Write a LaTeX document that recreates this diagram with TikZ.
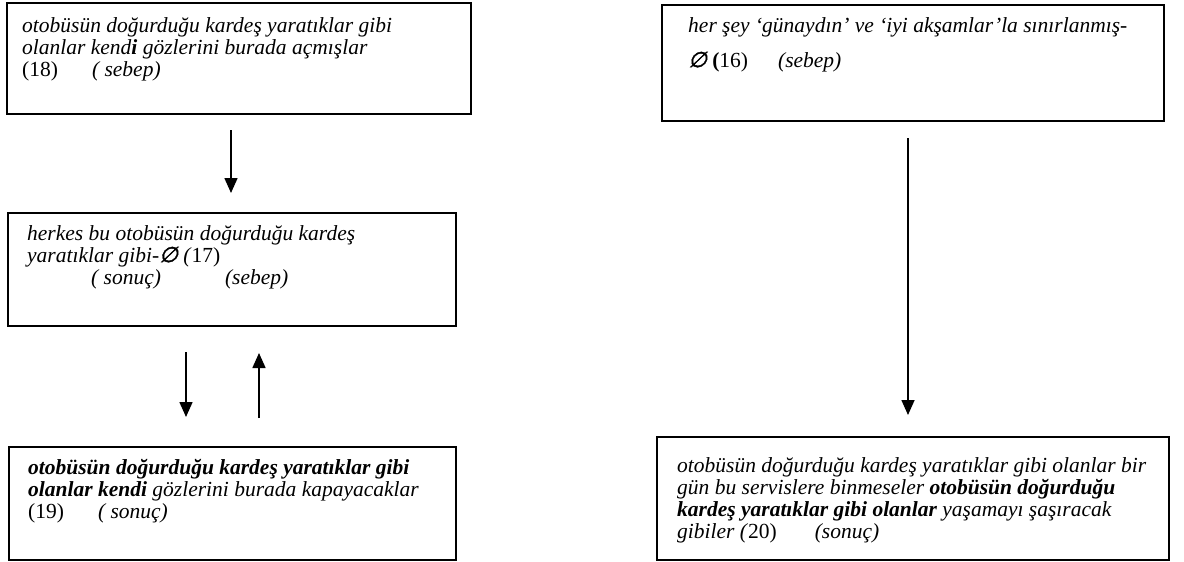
\documentclass[tikz,border=0pt]{standalone}
\usepackage{fontspec}
\setmainfont{Liberation Serif}
\newfontfamily\bosfont[FakeSlant=0.25, FakeBold=2]{DejaVu Sans}
\usetikzlibrary{arrows.meta}

\newcommand{\bos}{{\bosfont ∅}}

\tikzset{
  kutu/.style={draw, line width=1.8pt, anchor=north west, inner sep=0pt},
  yazi/.style={anchor=north west, inner sep=0pt, align=left,
    font=\fontsize{21.5}{22}\selectfont\itshape},
  ok/.style={line width=1.6pt, -{Triangle[width=13pt,length=15pt]}},
}

\begin{document}
\begin{tikzpicture}[x=1pt, y=-1pt]
	  \useasboundingbox (0,0) rectangle (1184,562);

	  % left column
	  \node[kutu, minimum width=464, minimum height=111] (k18) at (6,2) {};
	  \node[kutu, minimum width=448, minimum height=113] (k17) at (7,212) {};
	  \node[kutu, minimum width=447, minimum height=113] (k19) at (8,446) {};

	  % right column
	  \node[kutu, minimum width=502, minimum height=116] (k16) at (661,4) {};
	  \node[kutu, minimum width=512, minimum height=123] (k20) at (656,436) {};

	  \node[yazi] (t18) at (22,17) {otobüsün doğurduğu kardeş yaratıklar gibi\\
	    olanlar kend\textbf{i} gözlerini burada açmışlar\\
	    \textup{(18)}\hspace{34pt}( sebep)};
	  \node[yazi] (t17) at (27,225) {herkes bu otobüsün doğurduğu kardeş\\
	    yaratıklar gibi-\bos{} (\textup{17)}\\
	    \hspace*{64pt}( sonuç)\hspace{64pt}(sebep)};
	  \node[yazi] (t19) at (28,459) {\textbf{otobüsün doğurduğu kardeş yaratıklar gibi}\\
	    \textbf{olanlar kendi} gözlerini burada kapayacaklar\\
	    \textup{(19)}\hspace{34pt}( sonuç)};
	  \node[yazi] (t16) at (688,17) {her şey ‘günaydın’ ve ‘iyi akşamlar’la sınırlanmış-\\[13pt]
	    \bos\ \textup{\textbf{(}16)}\hspace{30pt}(sebep)};
	  \node[yazi] (t20) at (677,457) {otobüsün doğurduğu kardeş yaratıklar gibi olanlar bir\\
	    gün bu servislere binmeseler \textbf{otobüsün doğurduğu}\\
	    \textbf{kardeş yaratıklar gibi olanlar} yaşamayı şaşıracak\\
	    gibiler (\textup{20)}\hspace{38pt}(sonuç)};

	  % arrow ends
	  \coordinate (a18) at (231,130);
	  \coordinate (a17) at (231,193);
	  \coordinate (b17) at (186,352);
	  \coordinate (b19) at (186,417);
	  \coordinate (c19) at (259,418);
	  \coordinate (c17) at (259,353);
	  \coordinate (a16) at (908,138);
	  \coordinate (a20) at (908,415);

	  \draw[ok] (a18) -- (a17);
	  \draw[ok] (b17) -- (b19);
	  \draw[ok] (c19) -- (c17);
	  \draw[ok] (a16) -- (a20);
	\end{tikzpicture}
\end{document}
